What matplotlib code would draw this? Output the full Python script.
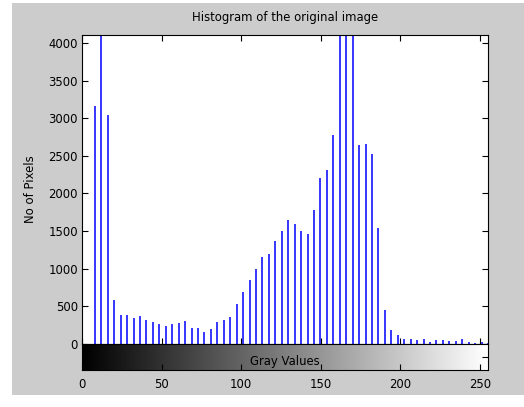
import numpy as np
import matplotlib
matplotlib.use("Agg")
import matplotlib.pyplot as plt
from matplotlib.patches import Rectangle

# 64-bin histogram (imhist style), bin centres 0..255
bin_centres = np.linspace(0, 255, 64)
counts = [0, 0, 3160, 4600, 3040, 590, 385, 385, 345, 370,
          320, 295, 262, 245, 262, 280, 311, 213, 213, 164,
          195, 293, 320, 360, 528, 688, 844, 1000, 1160, 1190,
          1368, 1496, 1650, 1600, 1496, 1461, 1776, 2200, 2313, 2770,
          5200, 6100, 4900, 2642, 2660, 2518, 1536, 452, 186, 122,
          71, 71, 55, 71, 27, 55, 55, 42, 42, 71,
          27, 13, 25, 15]
x_ticks = [0, 50, 100, 150, 200, 250]
y_ticks = [0, 500, 1000, 1500, 2000, 2500, 3000, 3500, 4000]

W, H = 524, 407
fs = 8.4
fig = plt.figure(figsize=(W / 100, H / 100), dpi=100, facecolor="white")

# gray matlab figure area (white strip round the screenshot)
fig.patches.append(Rectangle((12 / W, 1 - 395 / H), (W - 12) / W, (395 - 3) / H,
                             transform=fig.transFigure, facecolor="#cccccc",
                             edgecolor="none", zorder=-10))

ax = fig.add_axes([82 / W, 1 - 344 / H, (488 - 82) / W, (344 - 35) / H])
ax.vlines(bin_centres, 0, counts, color="blue", lw=1.1)
ax.set_xlim(0, 255)
ax.set_ylim(0, 4105)
ax.set_xticks(x_ticks)
ax.set_yticks(y_ticks)
ax.set_xticklabels([])
ax.tick_params(direction="in", length=4, width=0.8, top=True, right=True,
               labelsize=fs, pad=3)
ax.set_ylabel("No of Pixels", fontsize=fs, labelpad=8)
for s in ax.spines.values():
    s.set_linewidth(0.8)

# grayscale bar under the histogram
cax = fig.add_axes([82 / W, 1 - 370 / H, (488 - 82) / W, 26 / H])
grad = np.linspace(0, 1, 256).reshape(1, -1)
cax.imshow(grad, cmap="gray", aspect="auto", extent=[0, 255, 0, 1],
           interpolation="bilinear")
cax.set_xlim(0, 255)
cax.set_ylim(0, 1)
cax.set_xticks(x_ticks)
cax.set_yticks([0.5])
cax.set_yticklabels([])
cax.tick_params(direction="in", length=4, width=0.8, right=True,
                labelsize=fs, pad=6)
for s in cax.spines.values():
    s.set_linewidth(0.8)

fig.text(285 / W, 1 - 362 / H, "Gray Values", ha="center", va="center", fontsize=fs)
fig.text(285 / W, 1 - 18 / H, "Histogram of the original image",
         ha="center", va="center", fontsize=fs)

fig.savefig("out.png", dpi=100, facecolor=fig.get_facecolor())
